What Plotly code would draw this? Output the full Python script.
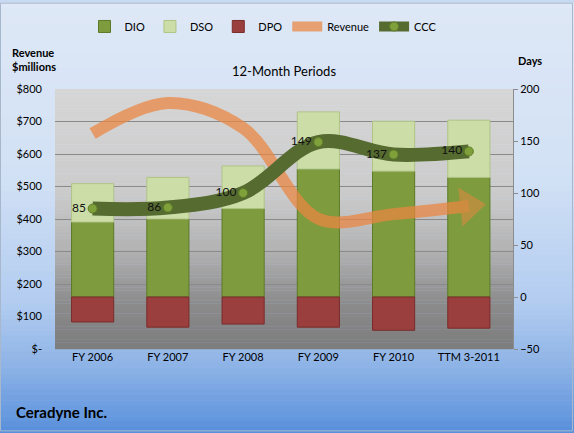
import plotly.graph_objects as go

# ---- data ----
categories = ["FY 2006", "FY 2007", "FY 2008", "FY 2009", "FY 2010", "TTM 3-2011"]
dio = [72, 75, 85, 123, 121, 115]
dso = [37, 40, 41, 55, 48, 55]
dpo = [-24, -29, -26, -29, -32, -30]
ccc = [85, 86, 100, 149, 137, 140]
revenue = [663, 757, 680, 401, 415, 440]
rev_tickvals = [0, 100, 200, 300, 400, 500, 600, 700, 800]
rev_ticktext = ["$-", "$100", "$200", "$300", "$400", "$500", "$600", "$700", "$800"]
days_tickvals = [-50, 0, 50, 100, 150, 200]

W, H = 574, 433
ML, MR, MT, MB = 55, 61, 87, 84
PW, PH = W - ML - MR, H - MT - MB

FONT = "Lato"

fig = go.Figure()

bar_w = 0.56
fig.add_trace(go.Bar(x=categories, y=dio, name="DIO", width=bar_w, yaxis="y",
                     marker=dict(color="#7E9C3E", line=dict(color="#5C7A27", width=1))))
fig.add_trace(go.Bar(x=categories, y=dso, name="DSO", width=bar_w, yaxis="y",
                     marker=dict(color="#CCDDA8", line=dict(color="#AFC485", width=1))))
fig.add_trace(go.Bar(x=categories, y=dpo, name="DPO", width=bar_w, yaxis="y",
                     marker=dict(color="#9A3F3D", line=dict(color="#7A2C2B", width=1))))

n = len(categories)
rev_sym = ["circle"] * (n - 1) + ["triangle-up"]
rev_size = [12] + [0] * (n - 2) + [34]
fig.add_trace(go.Scatter(x=categories, y=revenue, name="Revenue", yaxis="y2",
                         mode="lines+markers", opacity=0.72,
                         line=dict(color="#EC8640", width=12, shape="spline", smoothing=1.0),
                         marker=dict(symbol=rev_sym, size=rev_size, color="#EC8640",
                                     angleref="previous", line=dict(width=0))))

fig.add_trace(go.Scatter(x=categories, y=ccc, name="CCC", yaxis="y3",
                         mode="lines+markers+text", text=[str(v) for v in ccc],
                         textposition="middle left",
                         textfont=dict(family=FONT, size=12, color="#111111"),
                         line=dict(color="#566B30", width=14, shape="spline", smoothing=1.0),
                         marker=dict(symbol="circle", size=9, color="#7FA03A",
                                     line=dict(color="#5E7D28", width=1))))

# ---- background gradients via shapes ----
shapes = []

def lerp_stops(stops, t):
    for i in range(len(stops) - 1):
        t0, c0 = stops[i]
        t1, c1 = stops[i + 1]
        if t0 <= t <= t1:
            f = (t - t0) / (t1 - t0) if t1 > t0 else 0
            return tuple(int(round(c0[k] + (c1[k] - c0[k]) * f)) for k in range(3))
    return stops[-1][1]

outer_stops = [(0.0, (222, 232, 246)), (0.40, (210, 225, 245)), (0.70, (178, 204, 240)),
               (0.85, (140, 178, 230)), (1.0, (88, 144, 220))]
inner_stops = [(0.0, (214, 214, 214)), (0.40, (203, 203, 203)), (0.62, (178, 178, 178)),
               (0.82, (140, 140, 140)), (1.0, (124, 124, 124))]

NS = 80
x_left = -ML / PW
x_right = (W - ML) / PW
y_top = (H - MB) / PH
y_bot = -MB / PH
for i in range(NS):
    t0 = i / NS
    t1 = (i + 1) / NS
    c = lerp_stops(outer_stops, (t0 + t1) / 2)
    ya = y_top - (y_top - y_bot) * t0
    yb = y_top - (y_top - y_bot) * t1
    shapes.append(dict(type="rect", xref="paper", yref="paper", x0=x_left, x1=x_right,
                       y0=yb - 0.002, y1=ya, fillcolor="rgb(%d,%d,%d)" % c,
                       line=dict(width=0), layer="below"))
for i in range(NS):
    t0 = i / NS
    t1 = (i + 1) / NS
    c = lerp_stops(inner_stops, (t0 + t1) / 2)
    ya = 1 - t0
    yb = 1 - t1
    shapes.append(dict(type="rect", xref="paper", yref="paper", x0=0, x1=1,
                       y0=yb - 0.001, y1=ya, fillcolor="rgb(%d,%d,%d)" % c,
                       line=dict(width=0), layer="below"))
# chart border
shapes.append(dict(type="rect", xref="paper", yref="paper",
                   x0=x_left + 0.5 / PW, x1=x_right - 1.5 / PW,
                   y0=y_bot + 1.5 / PH, y1=y_top - 0.5 / PH,
                   line=dict(color="#A8B8CC", width=1), fillcolor="rgba(0,0,0,0)", layer="above"))

annotations = [
    dict(text="<b>Revenue<br>$millions</b>", xref="paper", yref="paper",
         x=(10 - ML) / PW, y=(H - MB - 57) / PH, xanchor="left", yanchor="middle",
         showarrow=False, align="left", font=dict(family=FONT, size=11, color="#000000")),
    dict(text="<b>Days</b>", xref="paper", yref="paper",
         x=(530 - ML) / PW, y=(H - MB - 58) / PH, xanchor="center", yanchor="middle",
         showarrow=False, font=dict(family=FONT, size=11, color="#000000")),
    dict(text="12-Month Periods", xref="paper", yref="paper",
         x=(284 - ML) / PW, y=(H - MB - 69) / PH, xanchor="center", yanchor="middle",
         showarrow=False, font=dict(family=FONT, size=13, color="#000000")),
    dict(text="<b>Ceradyne Inc.</b>", xref="paper", yref="paper",
         x=(14 - ML) / PW, y=(H - MB - 412) / PH, xanchor="left", yanchor="middle",
         showarrow=False, font=dict(family=FONT, size=15, color="#000000")),
]

fig.update_layout(
    width=W, height=H,
    margin=dict(l=ML, r=MR, t=MT, b=MB, pad=0),
    paper_bgcolor="rgb(200,218,242)",
    plot_bgcolor="rgba(0,0,0,0)",
    barmode="relative",
    bargap=0.44,
    font=dict(family=FONT, size=11, color="#000000"),
    showlegend=True,
    legend=dict(orientation="h", x=(263 - ML) / PW, xanchor="center",
                y=(H - MB - 24) / PH, yanchor="middle", traceorder="normal",
                bgcolor="rgba(0,0,0,0)", font=dict(family=FONT, size=11),
                itemwidth=30, tracegroupgap=0),
    xaxis=dict(showgrid=False, showline=False, ticks="", tickfont=dict(family=FONT, size=11),
               zeroline=False),
    yaxis=dict(side="right", range=[-50, 200], tickvals=days_tickvals, showgrid=False,
               zeroline=False, showline=True, linecolor="#8C8C8C", linewidth=1,
               ticks="outside", ticklen=4, tickcolor="#8C8C8C",
               tickfont=dict(family=FONT, size=11)),
    yaxis2=dict(side="left", overlaying="y", range=[0, 800], tickvals=rev_tickvals,
                ticktext=rev_ticktext, showgrid=True, gridcolor="#8A8A8A", gridwidth=1,
                zeroline=False, showline=False, ticks="", ticklabelstandoff=12,
                tickfont=dict(family=FONT, size=11)),
    yaxis3=dict(overlaying="y", range=[-50, 200], visible=False),
    shapes=shapes,
    annotations=annotations,
)

fig.write_html("out.html")
